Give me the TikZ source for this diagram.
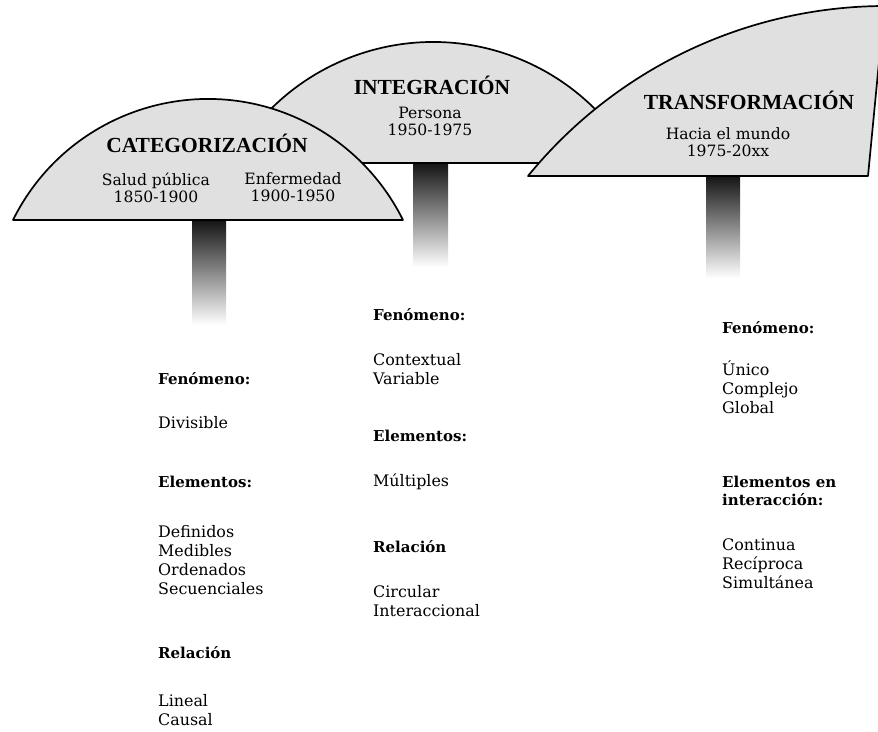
\documentclass[tikz,border=0pt]{standalone}
\usepackage{fontspec}
\setmainfont{DejaVu Serif}
\newfontfamily\titlefont{Liberation Serif}
\begin{document}
\begin{tikzpicture}[x=1pt,y=1pt,
  dome/.style={draw=black, line width=1.7pt, fill=black!12, line join=round},
  stem/.style={top color=black!92, middle color=black!45, bottom color=white},
  ttl/.style={font=\titlefont\bfseries\fontsize{21.5}{22}\selectfont, inner sep=0pt},
  sub/.style={font=\fontsize{15.6}{17}\selectfont, align=center, inner sep=0pt},
  head/.style={font=\bfseries\fontsize{15}{18.5}\selectfont, align=left, anchor=west, inner sep=0pt},
  body/.style={font=\fontsize{15.9}{19}\selectfont, align=left, anchor=west, inner sep=0pt}]
\useasboundingbox (0,0) rectangle (878,731);
% stems
\shade[stem] (192,511) rectangle (226,406);
\shade[stem] (413,568) rectangle (448,464);
\shade[stem] (706,555) rectangle (740,453);
% domes
\draw[dome] (230.8,568) arc[start angle=151.8, end angle=28.2, radius=229.4] -- cycle;
\draw[dome] (528,555) arc[start angle=140.8, end angle=90.2, radius=462] -- (868,555) -- cycle;
\draw[dome] (13,511) arc[start angle=153.65, end angle=26.35, radius=217.6] -- cycle;
% dome texts
\node[ttl] (tcat) at (207,588) {CATEGORIZACIÓN};
\node[sub] (salud) at (156,543.5) {Salud pública\\1850-1900};
\node[sub] (enf) at (293,543.5) {Enfermedad\\1900-1950};
\node[ttl] (tint) at (432,646) {INTEGRACIÓN};
\node[sub] (pers) at (430,609.5) {Persona\\1950-1975};
\node[ttl] (ttra) at (749,631) {TRANSFORMACIÓN};
\node[sub] (hacia) at (728,588.5) {Hacia el mundo\\1975-20xx};
% column 1
\node[head] (c1f) at (158,352) {Fenómeno:};
\node[body] (c1fv) at (158,308) {Divisible};
\node[head] (c1e) at (158,249) {Elementos:};
\node[body] (c1ev) at (158,171) {Definidos\\Medibles\\Ordenados\\Secuenciales};
\node[head] (c1r) at (158,78) {Relación};
\node[body] (c1rv) at (158,21) {Lineal\\Causal};
% column 2
\node[head] (c2f) at (373,416) {Fenómeno:};
\node[body] (c2fv) at (373,362) {Contextual\\Variable};
\node[head] (c2e) at (373,295) {Elementos:};
\node[body] (c2ev) at (373,249) {Múltiples};
\node[head] (c2r) at (373,184) {Relación};
\node[body] (c2rv) at (373,130) {Circular\\Interaccional};
% column 3
\node[head] (c3f) at (722,403) {Fenómeno:};
\node[body] (c3fv) at (722,344) {Único\\Complejo\\Global};
\node[head] (c3e) at (722,240) {Elementos en\\interacción:};
\node[body] (c3ev) at (722,167) {Continua\\Recíproca\\Simultánea};
\end{tikzpicture}
\end{document}
